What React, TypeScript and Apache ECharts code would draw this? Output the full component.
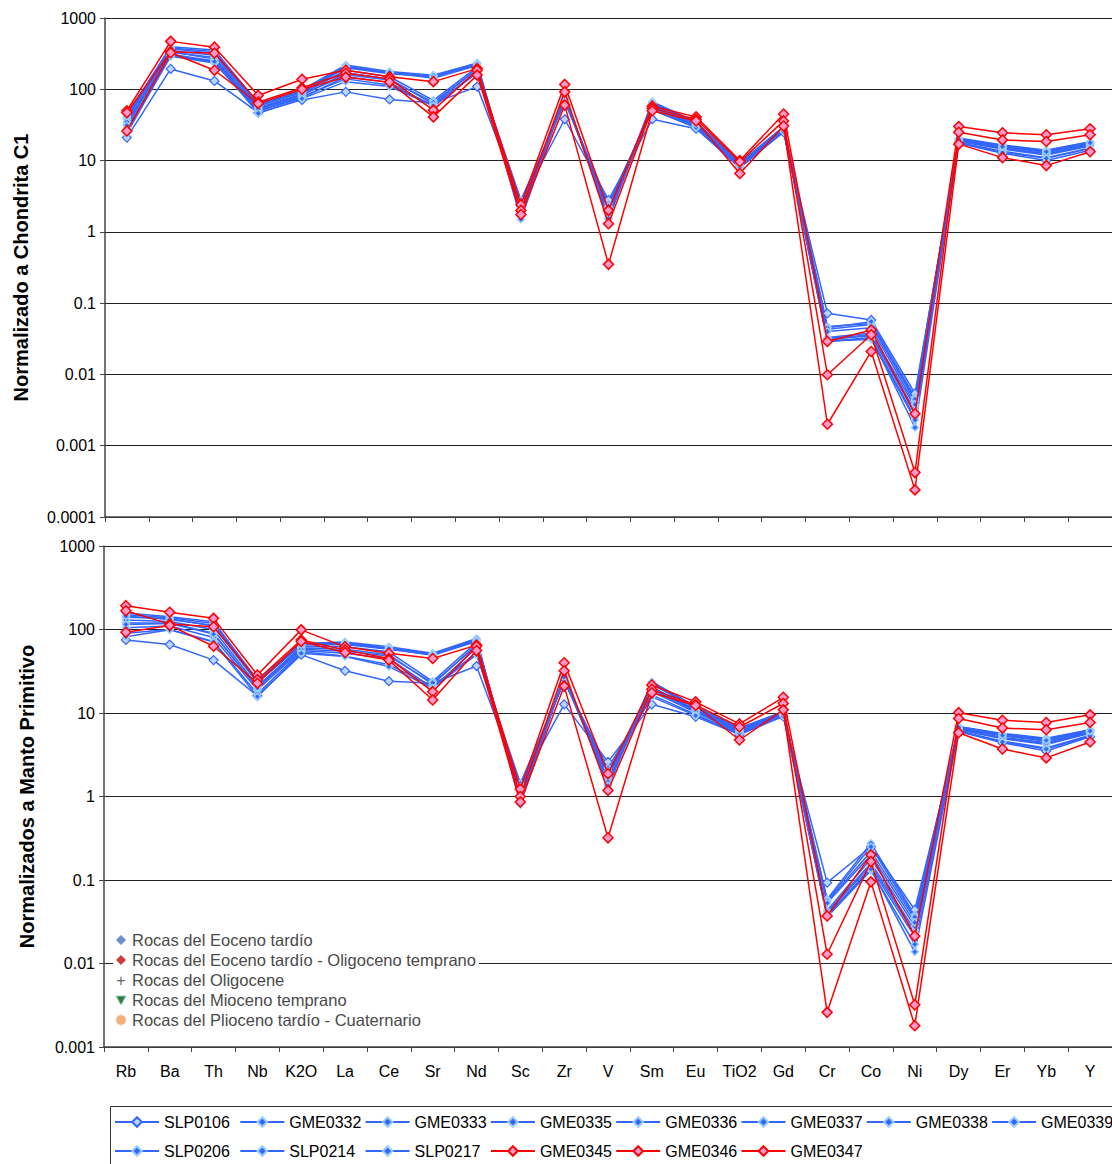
import React, { useEffect, useRef } from "react";
import * as echarts from "echarts";

const categories = ["Rb", "Ba", "Th", "Nb", "K2O", "La", "Ce", "Sr", "Nd", "Sc", "Zr", "V", "Sm", "Eu", "TiO2", "Gd", "Cr", "Co", "Ni", "Dy", "Er", "Yb", "Y"];
const blueNames = ["SLP0106", "GME0332", "GME0333", "GME0335", "GME0336", "GME0337", "GME0338", "GME0339", "SLP0206", "SLP0214", "SLP0217"];
const redNames = ["GME0345", "GME0346", "GME0347"];
const chondriteRange = [0.0001, 1000];
const mantleRange = [0.001, 1000];
const chondriteTitle = "Normalizado a Chondrita C1";
const mantleTitle = "Normalizados a Manto Primitivo";
const eraLabels = [
  "Rocas del Eoceno tardío",
  "Rocas del Eoceno tardío - Oligoceno temprano",
  "Rocas del Oligocene",
  "Rocas del Mioceno temprano",
  "Rocas del Plioceno tardío - Cuaternario",
];

// ---- Chondrite C1 normalised ----
const c1SLP0106 = [21, 193, 131, 47, 71, 92, 72, 64, 109, 2.6, 38, 2.8, 38, 28, 8.0, 25, 0.072, 0.058, 0.0054, 17.5, 12.7, 10, 14];
const c1GME0332 = [44, 395, 356, 64, 98, 219, 177, 158, 234, 1.6, 83, 1.6, 67, 35, 9.3, 30, 0.047, 0.052, 0.0048, 20.7, 16.6, 14, 18.4];
const c1GME0333 = [38, 350, 300, 58, 90, 200, 165, 150, 220, 1.8, 78, 1.8, 63, 34, 9.0, 29, 0.043, 0.05, 0.0042, 20, 16, 13.5, 18];
const c1GME0335 = [33, 310, 250, 52, 82, 170, 140, 62, 195, 2.2, 72, 2.0, 58, 31, 8.5, 27.5, 0.031, 0.035, 0.0031, 19, 15, 12.5, 16.8];
const c1GME0336 = [29, 290, 234, 50, 76, 150, 125, 57, 180, 2.4, 70, 2.2, 55, 30, 8.2, 26.5, 0.029, 0.032, 0.0025, 18.5, 14.5, 12, 16];
const c1GME0337 = [40, 370, 320, 61, 94, 210, 170, 155, 228, 1.7, 80, 1.5, 65, 34, 9.1, 29.5, 0.045, 0.055, 0.0045, 20.3, 16.2, 13.8, 18.2];
const c1GME0338 = [35, 330, 280, 55, 86, 185, 150, 70, 205, 2.0, 75, 1.9, 60, 32, 8.7, 28, 0.033, 0.038, 0.0035, 19.5, 15.5, 13, 17.3];
const c1GME0339 = [26, 300, 240, 49, 79, 140, 115, 60, 172, 2.8, 67, 2.5, 52, 29, 7.9, 26, 0.03, 0.031, 0.0023, 18, 13.5, 11, 15];
const c1SLP0206 = [31, 340, 265, 53, 84, 160, 135, 66, 190, 2.1, 73, 1.7, 57, 31, 8.4, 27, 0.032, 0.036, 0.0028, 19.2, 14.8, 12.2, 16.5];
const c1SLP0214 = [24, 295, 245, 46, 74, 128, 109, 59, 170, 2.5, 68, 2.3, 51, 29, 8.1, 25.5, 0.029, 0.033, 0.0018, 17.8, 13, 10.8, 14.8];
const c1SLP0217 = [42, 380, 340, 60, 92, 205, 172, 143, 215, 1.5, 81, 1.55, 64, 33, 8.9, 28.5, 0.04, 0.045, 0.0038, 20, 15.8, 13.3, 17.8];
const c1GME0345 = [50, 470, 390, 82, 138, 185, 150, 128, 195, 2.4, 117, 2.0, 58, 41, 10, 45, 0.029, 0.042, 0.0028, 30, 24.5, 23, 28];
const c1GME0346 = [47, 335, 320, 66, 105, 168, 140, 51, 185, 2.0, 92, 1.3, 54, 38, 9.6, 36, 0.0099, 0.036, 0.00042, 25, 19.5, 18.5, 23];
const c1GME0347 = [26, 325, 185, 63, 100, 148, 126, 41, 158, 1.75, 60, 0.35, 50, 36, 6.6, 30.5, 0.002, 0.021, 0.00024, 17, 11, 8.5, 13.3];

// ---- Primitive mantle normalised ----
const pmSLP0106 = [75, 66, 43, 16, 50, 32, 24, 22.7, 36.5, 1.4, 12.7, 2.6, 12.7, 9, 5.5, 9.1, 0.093, 0.25, 0.044, 6.0, 4.4, 3.5, 5.2];
const pmGME0332 = [158, 142, 124, 25, 68, 71, 62, 52, 78, 0.85, 28, 1.4, 23.7, 12, 6.6, 10.4, 0.059, 0.275, 0.038, 6.9, 5.7, 5.0, 6.3];
const pmGME0333 = [140, 135, 110, 23, 65, 66, 58, 50, 74, 0.95, 27, 1.6, 22, 11.6, 6.4, 10.2, 0.055, 0.22, 0.034, 6.8, 5.5, 4.8, 6.2];
const pmGME0335 = [120, 120, 90, 20, 60, 58, 50, 22, 66, 1.15, 25.5, 1.8, 19.5, 10.8, 6.0, 9.8, 0.041, 0.16, 0.025, 6.5, 5.1, 4.4, 5.9];
const pmGME0336 = [105, 110, 80, 19, 56, 52, 45, 20, 60, 1.25, 24.5, 1.9, 18, 10.2, 5.8, 9.5, 0.037, 0.14, 0.021, 6.3, 4.9, 4.2, 5.7];
const pmGME0337 = [150, 138, 118, 24, 67, 69, 60, 51, 76, 0.8, 27.5, 1.3, 23, 11.8, 6.5, 10.3, 0.057, 0.25, 0.036, 6.85, 5.6, 4.9, 6.25];
const pmGME0338 = [130, 125, 100, 21, 62, 62, 54, 24, 70, 1.05, 26, 1.7, 20.5, 11, 6.2, 10, 0.043, 0.18, 0.028, 6.6, 5.3, 4.6, 6.0];
const pmGME0339 = [90, 100, 72, 17, 54, 48, 38, 21, 52, 1.44, 24, 2.2, 16.5, 9.6, 5.6, 9.3, 0.036, 0.13, 0.017, 6.1, 4.6, 3.8, 5.4];
const pmSLP0206 = [115, 118, 88, 20, 58, 55, 48, 23, 63, 1.1, 25, 1.5, 19, 10.5, 5.9, 9.7, 0.04, 0.15, 0.023, 6.4, 5.0, 4.3, 5.8];
const pmSLP0214 = [82, 99, 71, 15.7, 52, 47.5, 36, 19.8, 50, 1.3, 24.2, 2.0, 15.6, 9.3, 5.7, 9.2, 0.038, 0.135, 0.0138, 6.05, 4.5, 3.7, 5.3];
const pmSLP0217 = [145, 132, 112, 23.5, 66, 68, 59, 49, 72, 0.9, 27, 1.35, 22.5, 11.4, 6.3, 10.1, 0.053, 0.2, 0.031, 6.7, 5.4, 4.7, 6.1];
const pmGME0345 = [193, 161, 136, 28.5, 99, 62, 52, 45, 65, 1.22, 40, 1.87, 21.6, 13.6, 7.4, 15.4, 0.037, 0.2, 0.0213, 10.1, 8.2, 7.7, 9.5];
const pmGME0346 = [168, 116, 108, 25, 75, 57, 45, 18, 63, 1.0, 32, 1.18, 19.2, 12.5, 6.8, 13, 0.0129, 0.166, 0.0032, 8.6, 6.6, 6.3, 7.7];
const pmGME0347 = [92.5, 112, 63, 22.7, 72, 53, 43, 14.3, 56, 0.86, 21, 0.32, 17.5, 12.3, 4.75, 10.9, 0.0026, 0.095, 0.0018, 5.8, 3.7, 2.9, 4.5];

const c1Blue = [c1SLP0106, c1GME0332, c1GME0333, c1GME0335, c1GME0336, c1GME0337, c1GME0338, c1GME0339, c1SLP0206, c1SLP0214, c1SLP0217];
const c1Red = [c1GME0345, c1GME0346, c1GME0347];
const pmBlue = [pmSLP0106, pmGME0332, pmGME0333, pmGME0335, pmGME0336, pmGME0337, pmGME0338, pmGME0339, pmSLP0206, pmSLP0214, pmSLP0217];
const pmRed = [pmGME0345, pmGME0346, pmGME0347];

const FONT = "'Liberation Sans', Arial, sans-serif";
const BLUE = "#3366FF";
const RED = "#FF0000";

function makeSeries(name: string, data: number[], panel: number, kind: "hollow" | "blue" | "red") {
  const itemStyle =
    kind === "red"
      ? { color: "#FF99CC", borderColor: RED, borderWidth: 1.5 }
      : kind === "hollow"
      ? { color: "#BBD6FF", borderColor: BLUE, borderWidth: 1.2 }
      : { color: BLUE, borderColor: "#99CCFF", borderWidth: 1.5 };
  return {
    type: "line",
    name,
    data,
    xAxisIndex: panel,
    yAxisIndex: panel,
    symbol: "diamond",
    symbolSize: kind === "red" ? 10 : kind === "hollow" ? 9 : 7,
    showAllSymbol: true,
    lineStyle: { color: kind === "red" ? RED : BLUE, width: 1.5 },
    itemStyle,
    z: kind === "red" ? 4 : 3,
    emphasis: { disabled: true },
  };
}

function yAxisFor(panel: number, range: number[], title: string, gap: number) {
  return {
    type: "log",
    logBase: 10,
    gridIndex: panel,
    min: range[0],
    max: range[1],
    name: title,
    nameLocation: "middle",
    nameGap: gap,
    nameRotate: 90,
    nameTextStyle: { fontSize: 20, fontWeight: "bold", color: "#000", fontFamily: FONT },
    axisLine: { show: true, lineStyle: { color: "#444", width: 1.5 } },
    axisTick: { show: true, length: 5, lineStyle: { color: "#444" } },
    minorTick: { show: false },
    axisLabel: {
      fontSize: 16,
      color: "#000",
      fontFamily: FONT,
      margin: 9,
      formatter: (v: number) => String(Number(v.toPrecision(1))),
    },
    splitLine: { show: true, lineStyle: { color: "#222", width: 1 } },
  };
}

function xAxisFor(panel: number, showLabels: boolean) {
  return {
    type: "category",
    gridIndex: panel,
    data: categories,
    boundaryGap: true,
    axisLine: { show: true, lineStyle: { color: "#444", width: 1.5 } },
    axisTick: { show: true, length: 5, inside: false, lineStyle: { color: "#444" } },
    axisLabel: { show: showLabels, fontSize: 16, color: "#000", fontFamily: FONT, margin: 16, interval: 0 },
    splitLine: { show: false },
  };
}

function legendFor(name: string, left: number, top: number) {
  return {
    data: [name],
    left,
    top,
    orient: "horizontal",
    padding: 0,
    itemWidth: 44,
    itemHeight: 12,
    itemGap: 0,
    selectedMode: false,
    textStyle: { fontSize: 16, color: "#000", fontFamily: FONT },
  };
}

function eraIcon(i: number, cx: number, cy: number): any {
  if (i === 0)
    return { type: "polygon", z: 21, shape: { points: [[cx, cy - 5], [cx + 5, cy], [cx, cy + 5], [cx - 5, cy]] }, style: { fill: "#6F8FC8", stroke: "#A9C4EE", lineWidth: 1 } };
  if (i === 1)
    return { type: "polygon", z: 21, shape: { points: [[cx, cy - 5], [cx + 5, cy], [cx, cy + 5], [cx - 5, cy]] }, style: { fill: "#C83C3C", stroke: "#F0A0A0", lineWidth: 1 } };
  if (i === 2)
    return { type: "text", z: 21, style: { text: "+", x: cx, y: cy, fontSize: 16, fill: "#666", align: "center", verticalAlign: "middle", fontFamily: FONT } };
  if (i === 3)
    return { type: "polygon", z: 21, shape: { points: [[cx - 5, cy - 4], [cx + 5, cy - 4], [cx, cy + 5]] }, style: { fill: "#2E7D4F", stroke: "#9AD0B0", lineWidth: 1 } };
  return { type: "circle", z: 21, shape: { cx, cy, r: 5 }, style: { fill: "#F0B080", stroke: "#F8D8B8", lineWidth: 1 } };
}

export default function App() {
  const ref = useRef<HTMLDivElement>(null);
  useEffect(() => {
    if (!ref.current) return;
    const chart = echarts.init(ref.current, null, { renderer: "svg" });
    const series: any[] = [];
    blueNames.forEach((n, i) => series.push(makeSeries(n, c1Blue[i], 0, i === 0 ? "hollow" : "blue")));
    redNames.forEach((n, i) => series.push(makeSeries(n, c1Red[i], 0, "red")));
    blueNames.forEach((n, i) => series.push(makeSeries(n, pmBlue[i], 1, i === 0 ? "hollow" : "blue")));
    redNames.forEach((n, i) => series.push(makeSeries(n, pmRed[i], 1, "red")));

    const allNames = [...blueNames, ...redNames];
    const legends = allNames.map((n, i) => legendFor(n, 114 + (i % 8) * 125.3, i < 8 ? 1114 : 1143));

    const graphics: any[] = [
      { type: "rect", z: 20, shape: { x: 113, y: 928, width: 366, height: 102 }, style: { fill: "#fff" } },
      { type: "rect", z: 1, shape: { x: 110.5, y: 1106.5, width: 1010, height: 80 }, style: { fill: "none", stroke: "#333", lineWidth: 1 } },
    ];
    eraLabels.forEach((t, i) => {
      const cy = 940 + i * 20;
      graphics.push(eraIcon(i, 121, cy));
      graphics.push({
        type: "text",
        z: 21,
        style: { text: t, x: 132, y: cy, fontSize: 16.5, fill: "#4a4a4a", verticalAlign: "middle", fontFamily: FONT },
      });
    });

    chart.setOption({
      animation: false,
      backgroundColor: "#fff",
      grid: [
        { left: 105, top: 18, width: 1018, height: 499 },
        { left: 104, top: 546, width: 1018, height: 501 },
      ],
      xAxis: [xAxisFor(0, false), xAxisFor(1, true)],
      yAxis: [yAxisFor(0, chondriteRange, chondriteTitle, 74), yAxisFor(1, mantleRange, mantleTitle, 67)],
      legend: legends,
      series,
      graphic: graphics,
    });
    return () => chart.dispose();
  }, []);
  return <div ref={ref} style={{ position: "fixed", left: 0, top: 0, width: 1112, height: 1164 }} />;
}
